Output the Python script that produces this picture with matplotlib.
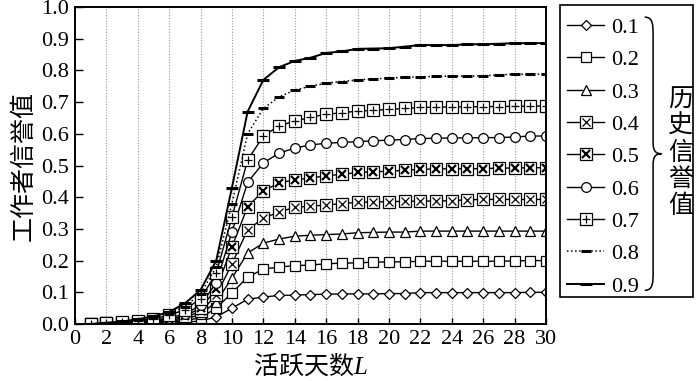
import matplotlib
matplotlib.use("Agg")
import matplotlib.pyplot as plt
from matplotlib.patches import Rectangle, PathPatch
from matplotlib.path import Path

plt.rcParams['font.family'] = ['Liberation Serif', 'Noto Sans CJK SC']
plt.rcParams['mathtext.fontset'] = 'custom'
plt.rcParams['mathtext.rm'] = 'Noto Sans CJK SC'
plt.rcParams['mathtext.it'] = 'Liberation Serif:italic'

days = list(range(1, 31))
labels = ['0.1', '0.2', '0.3', '0.4', '0.5', '0.6', '0.7', '0.8', '0.9']
s01 = [0, 0, 0.001, 0.001, 0.002, 0.003, 0.005, 0.01, 0.022, 0.05, 0.078, 0.085, 0.09, 0.091, 0.093,
       0.094, 0.095, 0.095, 0.095, 0.096, 0.096, 0.099, 0.099, 0.099, 0.099, 0.099, 0.099, 0.099, 0.1, 0.1]
s02 = [0, 0.001, 0.002, 0.003, 0.004, 0.006, 0.01, 0.02, 0.05, 0.098, 0.148, 0.173, 0.18, 0.184, 0.186,
       0.19, 0.192, 0.193, 0.195, 0.196, 0.196, 0.198, 0.198, 0.198, 0.198, 0.198, 0.198, 0.199, 0.2, 0.2]
s03 = [0, 0.001, 0.003, 0.004, 0.006, 0.009, 0.015, 0.03, 0.07, 0.145, 0.224, 0.255, 0.268, 0.277, 0.28,
       0.282, 0.284, 0.288, 0.289, 0.29, 0.29, 0.293, 0.293, 0.293, 0.293, 0.293, 0.293, 0.293, 0.293, 0.293]
s04 = [0, 0.002, 0.004, 0.006, 0.008, 0.012, 0.02, 0.04, 0.09, 0.19, 0.297, 0.334, 0.353, 0.368, 0.372,
       0.375, 0.38, 0.384, 0.385, 0.386, 0.387, 0.388, 0.388, 0.389, 0.392, 0.393, 0.393, 0.393, 0.393, 0.393]
s05 = [0, 0.002, 0.004, 0.007, 0.01, 0.016, 0.025, 0.05, 0.11, 0.243, 0.37, 0.42, 0.445, 0.455, 0.46,
       0.468, 0.472, 0.478, 0.48, 0.482, 0.485, 0.488, 0.489, 0.49, 0.49, 0.49, 0.492, 0.492, 0.493, 0.493]
s06 = [0, 0.002, 0.005, 0.009, 0.012, 0.02, 0.03, 0.06, 0.13, 0.29, 0.447, 0.508, 0.539, 0.555, 0.565,
       0.57, 0.573, 0.575, 0.578, 0.58, 0.582, 0.585, 0.586, 0.587, 0.587, 0.588, 0.588, 0.59, 0.593, 0.593]
s07 = [0, 0.003, 0.006, 0.011, 0.016, 0.028, 0.045, 0.08, 0.16, 0.337, 0.517, 0.593, 0.625, 0.64, 0.652,
       0.662, 0.666, 0.672, 0.674, 0.677, 0.68, 0.683, 0.684, 0.685, 0.685, 0.686, 0.686, 0.687, 0.687, 0.688]
s08 = [0, 0.003, 0.007, 0.013, 0.02, 0.033, 0.055, 0.095, 0.18, 0.38, 0.6, 0.68, 0.716, 0.738, 0.75,
       0.76, 0.765, 0.77, 0.773, 0.776, 0.778, 0.78, 0.781, 0.782, 0.782, 0.783, 0.786, 0.788, 0.788, 0.788]
s09 = [0, 0.004, 0.008, 0.015, 0.024, 0.038, 0.065, 0.107, 0.2, 0.43, 0.67, 0.77, 0.81, 0.83, 0.84,
       0.855, 0.86, 0.868, 0.869, 0.87, 0.875, 0.88, 0.88, 0.88, 0.882, 0.883, 0.884, 0.886, 0.886, 0.886]
series = [s01, s02, s03, s04, s05, s06, s07, s08, s09]
xticks = list(range(0, 31, 2))
yticks = [round(0.1 * i, 1) for i in range(11)]
xlabel = '$\\mathrm{活跃天数}L$'
ylabel = '工作者信誉值'
legend_title = '历史信誉值'

# (base marker, overlay marker, overlay mew, linestyle, markersize, linewidth)
styles = [
    ('D', None, 0, '-', 5, 1.0),
    ('s', None, 0, '-', 6.5, 1.0),
    ('^', None, 0, '-', 6.5, 1.0),
    ('s', 'x', 0.9, '-', 8, 1.0),
    ('s', 'x', 1.6, '-', 8, 1.0),
    ('o', None, 0, '-', 7, 1.0),
    ('s', '+', 0.9, '-', 8, 1.0),
    ('_', None, 0, ':', 7, 1.1),
    ('_', None, 0, '-', 8, 1.4),
]

fig = plt.figure(figsize=(7.0, 3.81), dpi=100)
ax = fig.add_axes([0.107, 0.1496, 0.673, 0.832])

handles = []
for data, (m, ov, omew, ls, ms, lw) in zip(series, styles):
    if m == '_':
        h, = ax.plot(days, data, color='black', linestyle=ls, linewidth=lw,
                     marker='_', markersize=ms, markeredgewidth=2.2)
        handles.append(h)
    else:
        h, = ax.plot(days, data, color='black', linestyle=ls, linewidth=lw,
                     marker=m, markersize=ms, markerfacecolor='white',
                     markeredgecolor='black', markeredgewidth=0.9)
        if ov is not None:
            h2, = ax.plot(days, data, color='black', linestyle='none',
                          marker=ov, markersize=ms * 0.8, markeredgewidth=omew)
            handles.append((h, h2))
        else:
            handles.append(h)

ax.set_xlim(0, 30)
ax.set_ylim(0, 1.0)
ax.set_xticks(xticks)
ax.set_yticks(yticks)
ax.set_yticklabels([f'{v:.1f}' for v in yticks])
ax.tick_params(direction='in', labelsize=16, length=6, width=1, pad=4)
ax.tick_params(axis='x', length=4)
for x in xticks[1:-1]:
    ax.axvline(x, color='#999999', linestyle=(0, (1, 1.5)), linewidth=0.8, zorder=0)
for sp in ax.spines.values():
    sp.set_linewidth(1.4)
ax.set_xlabel(xlabel, fontsize=18, labelpad=2)
ax.set_ylabel(ylabel, fontsize=18, labelpad=4)

# legend box
fig.patches.append(Rectangle((0.800, 0.220), 0.190, 0.767, transform=fig.transFigure,
                             fill=False, edgecolor='black', linewidth=1.2))
leg = fig.legend(handles, labels, loc='upper left', bbox_to_anchor=(0.800, 0.972),
                 frameon=False, fontsize=16, handlelength=1.7, handletextpad=0.3,
                 labelspacing=0.53, borderaxespad=0, borderpad=0.3)

# brace
bx, by0, by1, bw = 0.921, 0.238, 0.955, 0.024
ym = (by0 + by1) / 2
verts = [(bx, by1),
         (bx + bw * 0.5, by1), (bx + bw * 0.5, by1 - 0.02), (bx + bw * 0.5, by1 - 0.05),
         (bx + bw * 0.5, ym + 0.03),
         (bx + bw * 0.5, ym + 0.01), (bx + bw * 0.6, ym), (bx + bw, ym),
         (bx + bw * 0.6, ym), (bx + bw * 0.5, ym - 0.01), (bx + bw * 0.5, ym - 0.03),
         (bx + bw * 0.5, by0 + 0.05),
         (bx + bw * 0.5, by0 + 0.02), (bx + bw * 0.5, by0), (bx, by0)]
codes = [Path.MOVETO,
         Path.CURVE4, Path.CURVE4, Path.CURVE4,
         Path.LINETO,
         Path.CURVE4, Path.CURVE4, Path.CURVE4,
         Path.CURVE4, Path.CURVE4, Path.CURVE4,
         Path.LINETO,
         Path.CURVE4, Path.CURVE4, Path.CURVE4]
fig.patches.append(PathPatch(Path(verts, codes), transform=fig.transFigure,
                             fill=False, edgecolor='black', linewidth=1.1))

fig.text(0.972, ym, '\n'.join(legend_title), fontsize=18, ha='center', va='center',
         linespacing=1.2)

fig.savefig('out.png', dpi=100)
